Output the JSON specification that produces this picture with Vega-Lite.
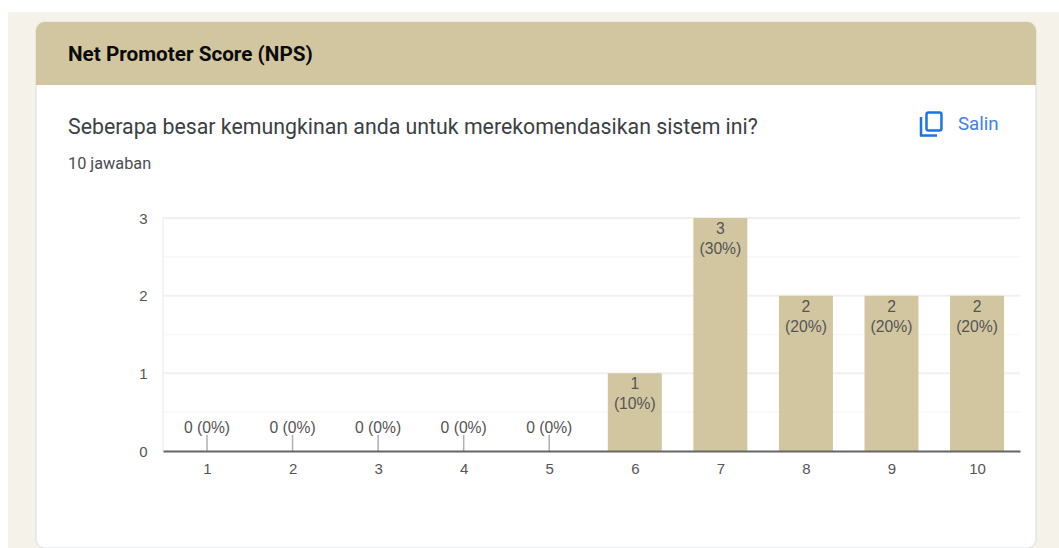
{"$schema":"https://vega.github.io/schema/vega-lite/v6.json","width":857,"height":233,"autosize":{"type":"none"},"padding":{"left":163,"top":218,"right":39,"bottom":97},"background":"#ffffff","view":{"stroke":null},"data":{"values":[{"score":1,"count":0,"label":"0 (0%)"},{"score":2,"count":0,"label":"0 (0%)"},{"score":3,"count":0,"label":"0 (0%)"},{"score":4,"count":0,"label":"0 (0%)"},{"score":5,"count":0,"label":"0 (0%)"},{"score":6,"count":1,"label":"1\n(10%)"},{"score":7,"count":3,"label":"3\n(30%)"},{"score":8,"count":2,"label":"2\n(20%)"},{"score":9,"count":2,"label":"2\n(20%)"},{"score":10,"count":2,"label":"2\n(20%)"}]},"layer":[{"data":{"values":[{}]},"mark":{"type":"rect","fill":"#f5f2ea"},"encoding":{"x":{"datum":-1.3259},"x2":{"datum":10.958},"y":{"datum":5.652},"y2":{"datum":-1.2489}}},{"data":{"values":[{}]},"mark":{"type":"rect","fill":"#ffffff","stroke":"#dadce0","strokeWidth":1,"cornerRadius":9},"encoding":{"x":{"datum":-0.9986},"x2":{"datum":10.689},"y":{"datum":5.523},"y2":{"datum":-1.2489}}},{"data":{"values":[{}]},"mark":{"type":"rect","fill":"#d2c6a1","cornerRadiusTopLeft":9,"cornerRadiusTopRight":9},"encoding":{"x":{"datum":-0.9986},"x2":{"datum":10.689},"y":{"datum":5.523},"y2":{"datum":4.712}}},{"data":{"values":[{"text":"Net Promoter Score (NPS)"}]},"mark":{"type":"text","align":"left","baseline":"middle","font":"Roboto","fontSize":20.7,"fontWeight":"bold","color":"#0b0b0b"},"encoding":{"x":{"datum":-0.6246},"y":{"datum":5.098},"text":{"field":"text"}}},{"data":{"values":[{"text":"Seberapa besar kemungkinan anda untuk merekomendasikan sistem ini?"}]},"mark":{"type":"text","align":"left","baseline":"middle","font":"Roboto","fontSize":21.32,"color":"#3c4043"},"encoding":{"x":{"datum":-0.6246},"y":{"datum":4.158},"text":{"field":"text"}}},{"data":{"values":[{"text":"10 jawaban"}]},"mark":{"type":"text","align":"left","baseline":"middle","font":"Roboto","fontSize":16.3,"color":"#4a4d52"},"encoding":{"x":{"datum":-0.6246},"y":{"datum":3.695},"text":{"field":"text"}}},{"data":{"values":[{"text":"Salin"}]},"mark":{"type":"text","align":"left","baseline":"middle","font":"Roboto","fontSize":18.7,"fontWeight":400,"color":"#3f7fee"},"encoding":{"x":{"datum":9.777},"y":{"datum":4.213},"text":{"field":"text"}}},{"data":{"values":[{}]},"mark":{"type":"rect","fillOpacity":0,"stroke":"#1a73e8","strokeWidth":2.5,"cornerRadius":2},"encoding":{"x":{"datum":9.409},"x2":{"datum":9.584},"y":{"datum":4.358},"y2":{"datum":4.126}}},{"data":{"values":[{}]},"mark":{"type":"rule","color":"#1a73e8","strokeWidth":2.5},"encoding":{"x":{"datum":9.345},"y":{"datum":4.3},"y2":{"datum":4.056}}},{"data":{"values":[{}]},"mark":{"type":"rule","color":"#1a73e8","strokeWidth":2.5},"encoding":{"x":{"datum":9.333},"x2":{"datum":9.532},"y":{"datum":4.062}}},{"data":{"values":[{"level":0.5},{"level":1.5},{"level":2.5}]},"mark":{"type":"rule","color":"#f7f7f7","strokeWidth":1.5},"encoding":{"x":{"datum":0.4857},"x2":{"datum":10.502},"y":{"field":"level","type":"quantitative"}}},{"data":{"values":[{"level":1},{"level":2},{"level":3}]},"mark":{"type":"rule","color":"#f0f0f0","strokeWidth":2},"encoding":{"x":{"datum":0.4857},"x2":{"datum":10.502},"y":{"field":"level","type":"quantitative"}}},{"data":{"values":[{}]},"mark":{"type":"rule","color":"#f0f0f0","strokeWidth":1.5},"encoding":{"x":{"datum":0.4857},"y":{"datum":0},"y2":{"datum":3}}},{"transform":[{"filter":"datum.count === 0"}],"mark":{"type":"rule","color":"#b0b0b0","strokeWidth":1.5},"encoding":{"x":{"field":"score","type":"quantitative"},"y":{"datum":0},"y2":{"datum":0.21}}},{"mark":{"type":"bar","orient":"vertical","size":54,"color":"#d2c6a1"},"encoding":{"x":{"field":"score","type":"quantitative","scale":{"domain":[0.4857,10.502],"nice":false,"zero":false,"padding":0},"axis":{"values":[1,2,3,4,5,6,7,8,9,10],"format":"d","title":null,"grid":false,"zindex":1,"domainColor":"#666666","domainWidth":2,"ticks":false,"labelPadding":10,"labelFont":"Liberation Sans","labelFontSize":15,"labelColor":"#555555"}},"y":{"field":"count","type":"quantitative","stack":null,"scale":{"domain":[0,3],"nice":false},"axis":{"values":[0,1,2,3],"format":"d","title":null,"grid":false,"zindex":1,"domain":false,"ticks":false,"labelPadding":16,"labelFont":"Liberation Sans","labelFontSize":15,"labelColor":"#555555"}}}},{"transform":[{"filter":"datum.count > 0"}],"mark":{"type":"text","baseline":"top","dy":4,"lineHeight":20,"font":"Liberation Sans","fontSize":15.7,"color":"#555555"},"encoding":{"x":{"field":"score","type":"quantitative"},"y":{"field":"count","type":"quantitative"},"text":{"field":"label"}}},{"transform":[{"filter":"datum.count === 0"}],"mark":{"type":"text","baseline":"bottom","dy":-15,"font":"Liberation Sans","fontSize":15.7,"color":"#555555"},"encoding":{"x":{"field":"score","type":"quantitative"},"y":{"field":"count","type":"quantitative"},"text":{"field":"label"}}}],"config":{"text":{"lineBreak":"\n"}}}
